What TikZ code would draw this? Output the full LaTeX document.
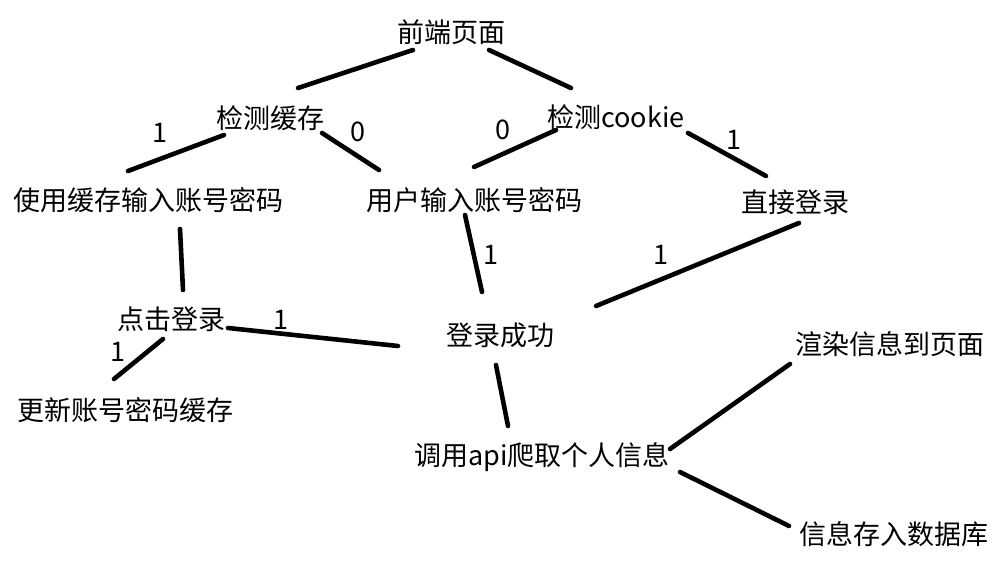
\documentclass[tikz,border=0pt]{standalone}
\usepackage{fontspec}
\setmainfont{Noto Sans CJK SC}
\usetikzlibrary{calc}
\begin{document}
\begin{tikzpicture}[x=1pt,y=-1pt,
  box/.style={anchor=base,inner sep=0pt,font=\fontsize{27}{27}\selectfont},
  lbl/.style={anchor=base,inner sep=0pt,font=\fontsize{27}{27}\selectfont},
  link/.style={line width=4.6pt,line cap=round,black}]
\useasboundingbox[fill=white] (0,0) rectangle (1006,577);

% steps of the login flow (placed by their baselines)
\node[box] (top)      at (451,43)  {前端页面};
\node[box] (cache)    at (270,129) {检测缓存};
\node[box] (cookie)   at (616,128) {检测cookie};
\node[box] (usecache) at (148,211) {使用缓存输入账号密码};
\node[box] (user)     at (474,211) {用户输入账号密码};
\node[box] (direct)   at (795,213) {直接登录};
\node[box] (click)    at (171,329) {点击登录};
\node[box] (success)  at (500,345) {登录成功};
\node[box] (update)   at (125,420) {更新账号密码缓存};
\node[box] (render)   at (890,354) {渲染信息到页面};
\node[box] (api)      at (542,465) {调用api爬取个人信息};
\node[box] (db)       at (894,544) {信息存入数据库};

% branch values
\node[lbl] (v1) at (160,143) {1};
\node[lbl] (v2) at (358,142) {0};
\node[lbl] (v3) at (503,140) {0};
\node[lbl] (v4) at (734,150) {1};
\node[lbl] (v5) at (491,265) {1};
\node[lbl] (v6) at (661,265) {1};
\node[lbl] (v7) at (281,329) {1};
\node[lbl] (v8) at (118,361) {1};

% connectors
\draw[link] ($(top.base)+(-38,7)$)       -- ($(cache.base)+(28,-41)$);
\draw[link] ($(top.base)+(38,7)$)        -- ($(cookie.base)+(-45,-40)$);
\draw[link] ($(cache.base)+(-46,6)$)     -- ($(usecache.base)+(-20,-40)$);
\draw[link] ($(cache.base)+(52,4)$)      -- ($(user.base)+(-95,-41)$);
\draw[link] ($(cookie.base)+(-60,2)$)    -- ($(user.base)+(0,-44)$);
\draw[link] ($(cookie.base)+(72,5)$)     -- ($(direct.base)+(-29,-37)$);
\draw[link] ($(usecache.base)+(32,18)$)  -- ($(click.base)+(12,-39)$);
\draw[link] ($(user.base)+(-9,4)$)       -- ($(success.base)+(-18,-53)$);
\draw[link] ($(direct.base)+(4,10)$)     -- ($(success.base)+(96,-39)$);
\draw[link] ($(click.base)+(57,-1)$)     -- ($(success.base)+(-102,1)$);
\draw[link] ($(click.base)+(-8,10)$)     -- ($(update.base)+(-11,-41)$);
\draw[link] ($(success.base)+(-4,20)$)   -- ($(api.base)+(-34,-39)$);
\draw[link] ($(api.base)+(128,-16)$)     -- ($(render.base)+(-100,10)$);
\draw[link] ($(api.base)+(138,7)$)       -- ($(db.base)+(-105,-18)$);
\end{tikzpicture}
\end{document}
